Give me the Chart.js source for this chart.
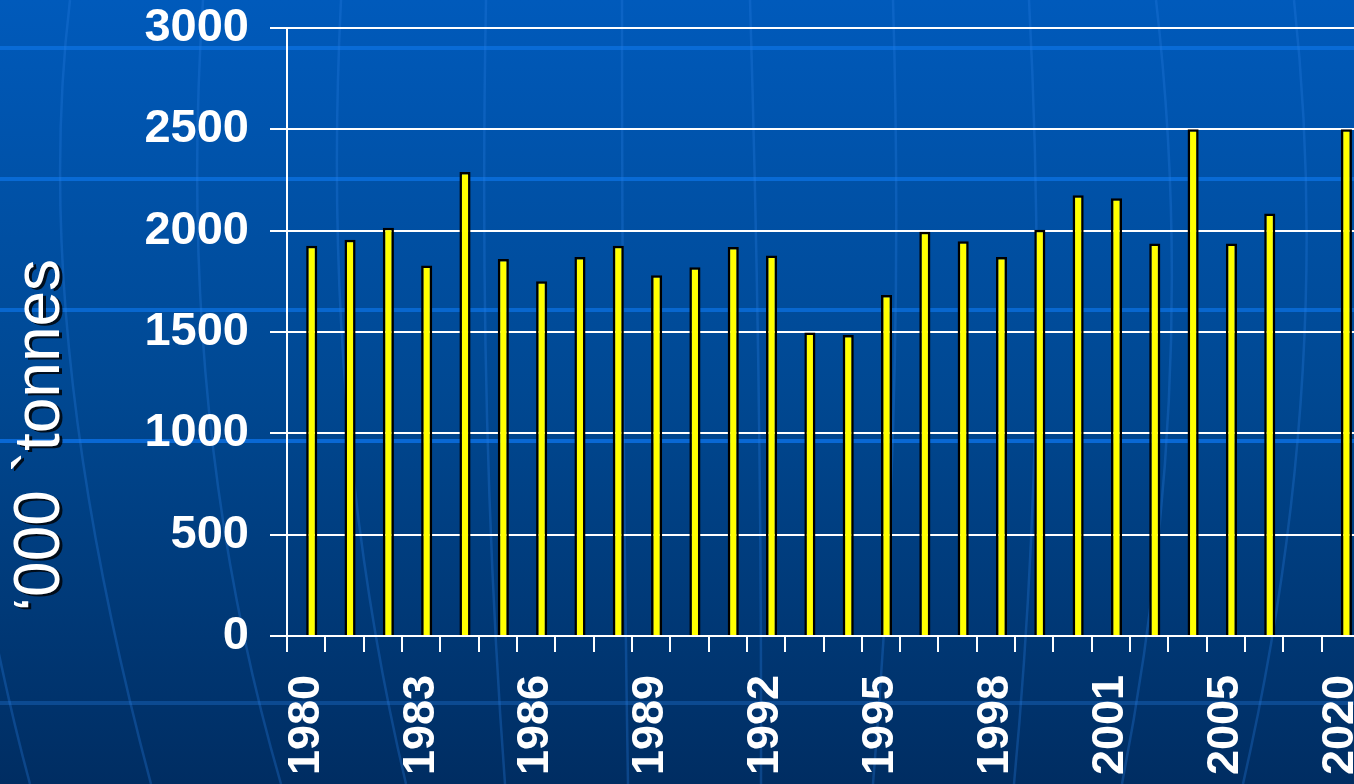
<!DOCTYPE html>
<html>
<head>
<meta charset="utf-8">
<script src="https://cdn.jsdelivr.net/npm/chart.js@4/dist/chart.umd.min.js"></script>
<style>
  html, body { margin: 0; padding: 0; overflow: hidden; background: #003a7a; }
  #wrap { position: relative; width: 1360px; height: 784px; }
</style>
</head>
<body>
<div id="wrap"><canvas id="c"></canvas></div>
<script>
// ---- data ----
const categories = ['1980','1981','1982','1983','1984','1985','1986','1987','1988','1989',
                    '1990','1991','1992','1993','1994','1995','1996','1997','1998','1999',
                    '2000','2001','2002','2003','2005','2010','2015','2020'];
const production = [1925,1955,2015,1828,2290,1860,1750,1870,1925,1780,
                    1820,1920,1878,1497,1485,1683,1995,1948,1870,2005,
                    2175,2160,1937,2500,1937,2085,null,2500];
const blankSeries = [];            // empty first series of the original chart (takes the left slot)
const shownYearLabels = ['1980','1983','1986','1989','1992','1995','1998','2001','2005','2020'];
const yMin = 0, yMax = 3000, yStep = 500;
const yTitle = '\u2018000 `tonnes';

// ---- decorative slide background (globe texture) ----
const slideBackground = {
  id: 'slideBackground',
  beforeDraw(chart) {
    const { ctx, width, height } = chart;
    ctx.save();
    const g = ctx.createLinearGradient(0, 0, 0, height);
    g.addColorStop(0, '#005abb');
    g.addColorStop(0.5, '#004892');
    g.addColorStop(1, '#002d62');
    ctx.fillStyle = g;
    ctx.fillRect(0, 0, width, height);
    // latitude lines
    const lats = [[48, 'rgba(10,110,220,0.85)'], [179, 'rgba(10,110,220,0.85)'], [310, 'rgba(10,110,220,0.8)'],
                  [441, 'rgba(10,110,225,0.85)'], [703, 'rgba(20,90,170,0.6)']];
    ctx.lineWidth = 4;
    lats.forEach(([y, c]) => { ctx.strokeStyle = c; ctx.beginPath(); ctx.moveTo(0, y); ctx.lineTo(width, y); ctx.stroke(); });
    // meridians
    const mer = [
      [70, 0, 30, 330, 151, 784],
      [203, 0, 175, 420, 281, 784],
      [341, 0, 320, 420, 406, 784],
      [486, 0, 478, 420, 505, 784],
      [622, 0, 622, 420, 628, 784],
      [750, 0, 762, 400, 761, 784],
      [893, 0, 905, 400, 873, 784],
      [1029, 0, 1050, 400, 1014, 784],
      [1156, 0, 1200, 380, 1122, 784],
      [1294, 0, 1335, 380, 1243, 784],
      [-60, 300, -20, 600, 30, 784]
    ];
    ctx.lineWidth = 2.5;
    ctx.strokeStyle = 'rgba(40,125,225,0.3)';
    mer.forEach(m => { ctx.beginPath(); ctx.moveTo(m[0], m[1]); ctx.quadraticCurveTo(m[2], m[3], m[4], m[5]); ctx.stroke(); });
    ctx.restore();
  }
};

// ---- shadowed axis title, placed like the original ----
const axisTitleShadow = {
  id: 'axisTitleShadow',
  beforeDraw(chart) {
    const sc = chart.scales.y;
    if (!sc || sc.__shadowed) return;
    const base = sc.drawTitle;
    sc.drawTitle = function () {
      const ctx = this.ctx;
      ctx.save();
      ctx.shadowColor = 'rgba(0,0,0,0.8)';
      ctx.shadowOffsetX = 3;
      ctx.shadowOffsetY = 2;
      ctx.shadowBlur = 0;
      ctx.translate(0, 103);
      base.call(this);
      ctx.restore();
    };
    sc.__shadowed = true;
  }
};

new Chart(document.getElementById('c'), {
  type: 'bar',
  data: {
    labels: categories,
    datasets: [
      { label: '', data: blankSeries, backgroundColor: 'rgba(0,0,0,0)', borderWidth: 0 },
      { label: "'000 tonnes", data: production, backgroundColor: '#ffff00', borderColor: '#000000', borderWidth: 2.5 }
    ]
  },
  options: {
    responsive: true,
    maintainAspectRatio: false,
    animation: false,
    layout: { padding: 0 },
    plugins: { legend: { display: false }, tooltip: { enabled: false } },
    datasets: { bar: { categoryPercentage: 0.58, barPercentage: 1.0 } },
    scales: {
      x: {
        offset: true,
        grid: { display: true, drawOnChartArea: false, drawTicks: true, tickLength: 16, color: '#ffffff', lineWidth: 2, offset: true },
        border: { display: true, color: '#ffffff', width: 2 },
        ticks: {
          autoSkip: false, minRotation: 90, maxRotation: 90, padding: 23, color: '#ffffff',
          font: { family: "'Liberation Sans', Arial, sans-serif", size: 45, weight: 'bold' },
          callback: function (v, i) { const l = categories[i]; return shownYearLabels.includes(l) ? l : ''; }
        },
        afterFit(s) { s.height = 148; s.paddingLeft = 0; s.paddingRight = 0; }
      },
      y: {
        min: yMin, max: yMax,
        grid: { color: '#ffffff', lineWidth: 2, tickLength: 17, drawTicks: true },
        border: { display: true, color: '#ffffff', width: 2 },
        ticks: {
          stepSize: yStep, padding: 21, color: '#ffffff',
          font: { family: "'Liberation Sans', Arial, sans-serif", size: 47, weight: 'bold' },
          callback: function (v) { return String(v); }
        },
        title: {
          display: true, text: yTitle, color: '#ffffff',
          font: { family: "'Liberation Sans', Arial, sans-serif", size: 64, weight: 'normal', lineHeight: 1.2 },
          padding: { top: 3, bottom: 0 }
        },
        afterFit(s) { s.width = 287; s.paddingTop = 28; s.paddingBottom = 0; }
      }
    }
  },
  plugins: [slideBackground, axisTitleShadow]
});
</script>
</body>
</html>
